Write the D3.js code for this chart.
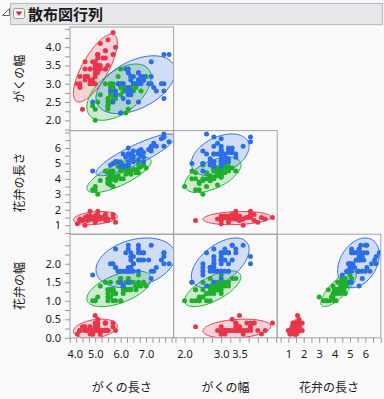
<!DOCTYPE html>
<html><head><meta charset="utf-8">
<script src="https://cdn.jsdelivr.net/npm/d3@7"></script>
<style>
html,body{margin:0;padding:0;background:#f9f9f9;}
svg{display:block;}
text{font-family:"Noto Sans","Noto Sans CJK JP",sans-serif;fill:#1a1a1a;}
.jp{font-family:"Noto Sans CJK JP",sans-serif;}
</style></head><body>
<svg id="chart" width="384" height="399"></svg>
<script>
// ---- Data (Iris) ----
const variableNames = ["がくの長さ", "がくの幅", "花弁の長さ", "花弁の幅"];
const speciesNames = ["setosa", "versicolor", "virginica"];
const speciesColors = ["#e8354a", "#1fb02b", "#2c6ee8"];

const setosaSL = [5.1,4.9,4.7,4.6,5.0,5.4,4.6,5.0,4.4,4.9,5.4,4.8,4.8,4.3,5.8,5.7,5.4,5.1,5.7,5.1,5.4,5.1,4.6,5.1,4.8,5.0,5.0,5.2,5.2,4.7,4.8,5.4,5.2,5.5,4.9,5.0,5.5,4.9,4.4,5.1,5.0,4.5,4.4,5.0,5.1,4.8,5.1,4.6,5.3,5.0];
const setosaSW = [3.5,3.0,3.2,3.1,3.6,3.9,3.4,3.4,2.9,3.1,3.7,3.4,3.0,3.0,4.0,4.4,3.9,3.5,3.8,3.8,3.4,3.7,3.6,3.3,3.4,3.0,3.4,3.5,3.4,3.2,3.1,3.4,4.1,4.2,3.1,3.2,3.5,3.6,3.0,3.4,3.5,2.3,3.2,3.5,3.8,3.0,3.8,3.2,3.7,3.3];
const setosaPL = [1.4,1.4,1.3,1.5,1.4,1.7,1.4,1.5,1.4,1.5,1.5,1.6,1.4,1.1,1.2,1.5,1.3,1.4,1.7,1.5,1.7,1.5,1.0,1.7,1.9,1.6,1.6,1.5,1.4,1.6,1.6,1.5,1.5,1.4,1.5,1.2,1.3,1.4,1.3,1.5,1.3,1.3,1.3,1.6,1.9,1.4,1.6,1.4,1.5,1.4];
const setosaPW = [0.2,0.2,0.2,0.2,0.2,0.4,0.3,0.2,0.2,0.1,0.2,0.2,0.1,0.1,0.2,0.4,0.4,0.3,0.3,0.3,0.2,0.4,0.2,0.5,0.2,0.2,0.4,0.2,0.2,0.2,0.2,0.4,0.1,0.2,0.2,0.2,0.2,0.1,0.2,0.2,0.3,0.3,0.2,0.6,0.4,0.3,0.2,0.2,0.2,0.2];

const versicolorSL = [7.0,6.4,6.9,5.5,6.5,5.7,6.3,4.9,6.6,5.2,5.0,5.9,6.0,6.1,5.6,6.7,5.6,5.8,6.2,5.6,5.9,6.1,6.3,6.1,6.4,6.6,6.8,6.7,6.0,5.7,5.5,5.5,5.8,6.0,5.4,6.0,6.7,6.3,5.6,5.5,5.5,6.1,5.8,5.0,5.6,5.7,5.7,6.2,5.1,5.7];
const versicolorSW = [3.2,3.2,3.1,2.3,2.8,2.8,3.3,2.4,2.9,2.7,2.0,3.0,2.2,2.9,2.9,3.1,3.0,2.7,2.2,2.5,3.2,2.8,2.5,2.8,2.9,3.0,2.8,3.0,2.9,2.6,2.4,2.4,2.7,2.7,3.0,3.4,3.1,2.3,3.0,2.5,2.6,3.0,2.6,2.3,2.7,3.0,2.9,2.9,2.5,2.8];
const versicolorPL = [4.7,4.5,4.9,4.0,4.6,4.5,4.7,3.3,4.6,3.9,3.5,4.2,4.0,4.7,3.6,4.4,4.5,4.1,4.5,3.9,4.8,4.0,4.9,4.7,4.3,4.4,4.8,5.0,4.5,3.5,3.8,3.7,3.9,5.1,4.5,4.5,4.7,4.4,4.1,4.0,4.4,4.6,4.0,3.3,4.2,4.2,4.2,4.3,3.0,4.1];
const versicolorPW = [1.4,1.5,1.5,1.3,1.5,1.3,1.6,1.0,1.3,1.4,1.0,1.5,1.0,1.4,1.3,1.4,1.5,1.0,1.5,1.1,1.8,1.3,1.5,1.2,1.3,1.4,1.4,1.7,1.5,1.0,1.1,1.0,1.2,1.6,1.5,1.6,1.5,1.3,1.3,1.3,1.2,1.4,1.2,1.0,1.3,1.2,1.3,1.3,1.1,1.3];

const virginicaSL = [6.3,5.8,7.1,6.3,6.5,7.6,4.9,7.3,6.7,7.2,6.5,6.4,6.8,5.7,5.8,6.4,6.5,7.7,7.7,6.0,6.9,5.6,7.7,6.3,6.7,7.2,6.2,6.1,6.4,7.2,7.4,7.9,6.4,6.3,6.1,7.7,6.3,6.4,6.0,6.9,6.7,6.9,5.8,6.8,6.7,6.7,6.3,6.5,6.2,5.9];
const virginicaSW = [3.3,2.7,3.0,2.9,3.0,3.0,2.5,2.9,2.5,3.6,3.2,2.7,3.0,2.5,2.8,3.2,3.0,3.8,2.6,2.2,3.2,2.8,2.8,2.7,3.3,3.2,2.8,3.0,2.8,3.0,2.8,3.8,2.8,2.8,2.6,3.0,3.4,3.1,3.0,3.1,3.1,3.1,2.7,3.2,3.3,3.0,2.5,3.0,3.4,3.0];
const virginicaPL = [6.0,5.1,5.9,5.6,5.8,6.6,4.5,6.3,5.8,6.1,5.1,5.3,5.5,5.0,5.1,5.3,5.5,6.7,6.9,5.0,5.7,4.9,6.7,4.9,5.7,6.0,4.8,4.9,5.6,5.8,6.1,6.4,5.6,5.1,5.6,6.1,5.6,5.5,4.8,5.4,5.6,5.1,5.1,5.9,5.7,5.2,5.0,5.2,5.4,5.1];
const virginicaPW = [2.5,1.9,2.1,1.8,2.2,2.1,1.7,1.8,1.8,2.5,2.0,1.9,2.1,2.0,2.4,2.3,1.8,2.2,2.3,1.5,2.3,2.0,2.0,1.8,2.1,1.8,1.8,1.8,2.1,1.6,1.9,2.0,2.2,1.5,1.4,2.3,2.4,1.8,1.8,2.1,2.4,2.3,1.9,2.3,2.5,2.3,1.9,2.0,2.3,1.8];

// tick labels per axis
const sepalLengthLabels = [4.0, 5.0, 6.0, 7.0];
const sepalWidthXLabels = [2.0, 3.0, 3.5];
const sepalWidthYLabels = [2.0, 2.5, 3.0, 3.5, 4.0];
const petalLengthLabels = [1, 2, 3, 4, 5, 6];
const petalWidthLabels = [0.0, 0.5, 1.0, 1.5, 2.0];

// ---- Build ----
const groups = [
  [setosaSL, setosaSW, setosaPL, setosaPW],
  [versicolorSL, versicolorSW, versicolorPL, versicolorPW],
  [virginicaSL, virginicaSW, virginicaPL, virginicaPW]
];

const svg = d3.select("#chart");
const X0 = 70, Y0 = 27, S = 103.6;

// header
svg.append("path").attr("d", "M2.5,15.5L9.5,15.5L9.5,8.5Z").attr("fill", "#fff").attr("stroke", "#5a6a5a").attr("stroke-width", 1);
svg.append("rect").attr("x", 10.5).attr("y", 3.5).attr("width", 372).attr("height", 21)
  .attr("fill", "#e6e7eb").attr("stroke", "#bdbdbd").attr("stroke-width", 1.2);
svg.append("rect").attr("x", 13.5).attr("y", 8.5).attr("width", 11).attr("height", 10).attr("rx", 2)
  .attr("fill", "#f6f6f6").attr("stroke", "#9a9a9a");
svg.append("path").attr("d", "M15.5,11.5L22.5,11.5L19,15.8Z").attr("fill", "#d8262f");
svg.append("text").attr("class", "jp").attr("x", 28).attr("y", 19.5)
  .style("font-size", "15px").style("font-weight", "bold").text("散布図行列");

// scales: x for variables 0..2, y for variables 1..3
const xScales = [
  d3.scaleLinear().domain([4.01, 8.08]).range([X0, X0 + S]),
  d3.scaleLinear().domain([1.70, 4.53]).range([X0 + S, X0 + 2 * S]),
  d3.scaleLinear().domain([0.28, 7.0]).range([X0 + 2 * S, X0 + 3 * S])
];
const yScales = [
  d3.scaleLinear().domain([1.72, 4.55]).range([Y0 + S, Y0]),
  d3.scaleLinear().domain([0.42, 7.12]).range([Y0 + 2 * S, Y0 + S]),
  d3.scaleLinear().domain([0.0, 2.8]).range([Y0 + 3 * S, Y0 + 2 * S])
];

const chi = Math.sqrt(-2 * Math.log(1 - 0.95));
function ellipse(xs, ys) {
  const n = xs.length, mx = d3.mean(xs), my = d3.mean(ys);
  let sxx = 0, syy = 0, sxy = 0;
  for (let i = 0; i < n; i++) {
    const dx = xs[i] - mx, dy = ys[i] - my;
    sxx += dx * dx; syy += dy * dy; sxy += dx * dy;
  }
  sxx /= n - 1; syy /= n - 1; sxy /= n - 1;
  const a = Math.sqrt(sxx), b = sxy / a, d = Math.sqrt(syy - b * b);
  return d3.range(120).map(k => {
    const t = 2 * Math.PI * k / 120, u = Math.cos(t), v = Math.sin(t);
    return [mx + chi * a * u, my + chi * (b * u + d * v)];
  });
}

const defs = svg.append("defs");
for (let r = 0; r < 3; r++) {
  for (let c = 0; c <= r; c++) {
    const xs = xScales[c], ys = yScales[r];
    const px = X0 + c * S, py = Y0 + r * S;
    const id = `clip${r}${c}`;
    defs.append("clipPath").attr("id", id).append("rect")
      .attr("x", px).attr("y", py).attr("width", S).attr("height", S);
    const g = svg.append("g").attr("clip-path", `url(#${id})`);
    const line = d3.line().x(p => xs(p[0])).y(p => ys(p[1])).curve(d3.curveLinearClosed);
    groups.forEach((grp, s) => {
      g.append("path").attr("d", line(ellipse(grp[c], grp[r + 1])))
        .attr("fill", speciesColors[s]).attr("fill-opacity", 0.2)
        .attr("stroke", speciesColors[s]).attr("stroke-width", 1);
    });
    groups.forEach((grp, s) => {
      g.selectAll(null).data(d3.range(grp[c].length)).join("circle")
        .attr("cx", i => xs(grp[c][i])).attr("cy", i => ys(grp[r + 1][i]))
        .attr("r", 2.5).attr("fill", speciesColors[s]);
    });
    svg.append("rect").attr("x", px).attr("y", py).attr("width", S).attr("height", S)
      .attr("fill", "none").attr("stroke", "#a3a3a3").attr("stroke-width", 1);
  }
}

// axes
function styleAxis(g) {
  g.select(".domain").remove();
  g.selectAll(".tick line").attr("stroke", "#9a9a9a");
  g.selectAll(".tick text").style("font-size", "11px").attr("fill", "#1a1a1a");
}
const fmt1 = d3.format(".1f"), fmt0 = d3.format("d");
const xAxisDefs = [
  { scale: xScales[0], ticks: d3.range(4.0, 8.01, 0.25), labels: sepalLengthLabels, fmt: fmt1 },
  { scale: xScales[1], ticks: d3.range(1.75, 4.51, 0.25), labels: sepalWidthXLabels, fmt: fmt1 },
  { scale: xScales[2], ticks: d3.range(0.5, 7.01, 0.5), labels: petalLengthLabels, fmt: fmt0 }
];
const yAxisDefs = [
  { scale: yScales[0], ticks: d3.range(1.75, 4.51, 0.25), labels: sepalWidthYLabels, fmt: fmt1 },
  { scale: yScales[1], ticks: d3.range(0.5, 7.01, 0.5), labels: petalLengthLabels, fmt: fmt0 },
  { scale: yScales[2], ticks: d3.range(0, 2.51, 0.25), labels: petalWidthLabels, fmt: fmt1 }
];
const near = (arr, v) => arr.some(a => Math.abs(a - v) < 1e-6);
xAxisDefs.forEach((a, c) => {
  const g = svg.append("g").attr("transform", `translate(0,${Y0 + 3 * S})`)
    .call(d3.axisBottom(a.scale).tickValues(a.ticks).tickSize(5).tickPadding(7)
      .tickFormat(v => near(a.labels, v) ? a.fmt(v) : ""));
  styleAxis(g);
  const left = X0 + c * S;
  // keep the first label from sticking out past the panel's left edge
  g.selectAll(".tick").each(function (v) {
    const t = d3.select(this).select("text");
    const node = t.node();
    if (!node || !node.textContent) return;
    const bb = node.getBBox();
    const tx = a.scale(v);
    if (tx + bb.x < left - 3) t.attr("x", (left - 3) - (tx + bb.x));
  });
  svg.append("text").attr("class", "jp").attr("x", left + S / 2).attr("y", 392)
    .attr("text-anchor", "middle").style("font-size", "12px").text(variableNames[c]);
});
yAxisDefs.forEach((a, r) => {
  const g = svg.append("g").attr("transform", `translate(${X0},0)`)
    .call(d3.axisLeft(a.scale).tickValues(a.ticks).tickSize(5).tickPadding(4)
      .tickFormat(v => near(a.labels, v) ? a.fmt(v) : ""));
  styleAxis(g);
  const cy = Y0 + r * S + S / 2;
  svg.append("text").attr("class", "jp").attr("transform", `translate(24,${cy}) rotate(-90)`)
    .attr("text-anchor", "middle").style("font-size", "12px").text(variableNames[r + 1]);
});
</script>
</body></html>
